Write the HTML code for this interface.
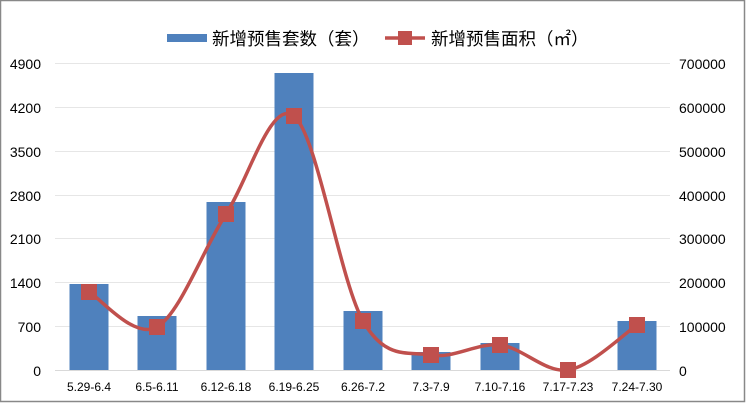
<!DOCTYPE html>
<html><head><meta charset="utf-8"><style>
html,body{margin:0;padding:0;background:#fff}
svg{display:block}
text{font-family:"Liberation Sans","Noto Sans CJK SC",sans-serif;fill:#000}
</style></head><body>
<svg id="s" width="746" height="403" viewBox="0 0 746 403">
<rect x="0.5" y="0.5" width="744" height="401" fill="#fff" stroke="#888" stroke-width="1.5"/>
<g stroke="#e6e6e6" stroke-width="1">
<line x1="55" x2="670" y1="63.5" y2="63.5"/>
<line x1="55" x2="670" y1="107.5" y2="107.5"/>
<line x1="55" x2="670" y1="151.5" y2="151.5"/>
<line x1="55" x2="670" y1="195.5" y2="195.5"/>
<line x1="55" x2="670" y1="238.5" y2="238.5"/>
<line x1="55" x2="670" y1="282.5" y2="282.5"/>
<line x1="55" x2="670" y1="326.5" y2="326.5"/>
</g>
<line x1="55" x2="670" y1="370.5" y2="370.5" stroke="#d9d9d9"/>
<g font-size="14" text-anchor="end">
<text x="41" y="69">4900</text><text x="41" y="113">4200</text><text x="41" y="157">3500</text>
<text x="41" y="201">2800</text><text x="41" y="244">2100</text><text x="41" y="288">1400</text>
<text x="41" y="332">700</text><text x="41" y="376">0</text>
</g>
<g font-size="14">
<text x="679" y="69">700000</text><text x="679" y="113">600000</text><text x="679" y="157">500000</text>
<text x="679" y="201">400000</text><text x="679" y="244">300000</text><text x="679" y="288">200000</text>
<text x="679" y="332">100000</text><text x="679" y="376">0</text>
</g>
<g id="bars" fill="#4f81bd"></g>
<g id="xl" font-size="12" text-anchor="middle"></g>
<path id="ln" fill="none" stroke="#c0504d" stroke-width="3.5"/>
<g id="mk" fill="#c0504d"></g>
<rect x="167" y="34" width="40" height="8" fill="#4f81bd"/>
<text x="212" y="45" font-size="17.5" fill="#333">新增预售套数（套）</text>
<line x1="385" x2="425" y1="38" y2="38" stroke="#c0504d" stroke-width="3.5"/>
<rect x="398" y="31" width="14" height="14" fill="#c0504d"/>
<text x="431" y="45" font-size="17.5" fill="#333">新增预售面积（㎡）</text>
</svg>
<script>
var cx=[89,157,226,294,363,431,500,568,637];
var bt=[284,316,202,73,311,352,343,370,321];
var ly=[292,327,214,116,321,355,345,370,325];
var lab=["5.29-6.4","6.5-6.11","6.12-6.18","6.19-6.25","6.26-7.2","7.3-7.9","7.10-7.16","7.17-7.23","7.24-7.30"];
var ns="http://www.w3.org/2000/svg",b=document.getElementById("bars"),x=document.getElementById("xl"),m=document.getElementById("mk");
for(var i=0;i<9;i++){
 var r=document.createElementNS(ns,"rect");r.setAttribute("x",cx[i]-19.5);r.setAttribute("y",bt[i]);r.setAttribute("width",39);r.setAttribute("height",370-bt[i]);b.appendChild(r);
 var t=document.createElementNS(ns,"text");t.setAttribute("x",cx[i]);t.setAttribute("y",391);t.textContent=lab[i];x.appendChild(t);
 var k=document.createElementNS(ns,"rect");k.setAttribute("x",cx[i]-8);k.setAttribute("y",ly[i]-8);k.setAttribute("width",16);k.setAttribute("height",16);m.appendChild(k);
}
var d="M"+cx[0]+","+ly[0];
for(var i=0;i<8;i++){
 var p0=[cx[Math.max(i-1,0)],ly[Math.max(i-1,0)]],p1=[cx[i],ly[i]],p2=[cx[i+1],ly[i+1]],p3=[cx[Math.min(i+2,8)],ly[Math.min(i+2,8)]];
 var c1=[p1[0]+(p2[0]-p0[0])/6,p1[1]+(p2[1]-p0[1])/6],c2=[p2[0]-(p3[0]-p1[0])/6,p2[1]-(p3[1]-p1[1])/6];
 d+=" C"+c1+" "+c2+" "+p2;
}
document.getElementById("ln").setAttribute("d",d);
</script>
</body></html>
